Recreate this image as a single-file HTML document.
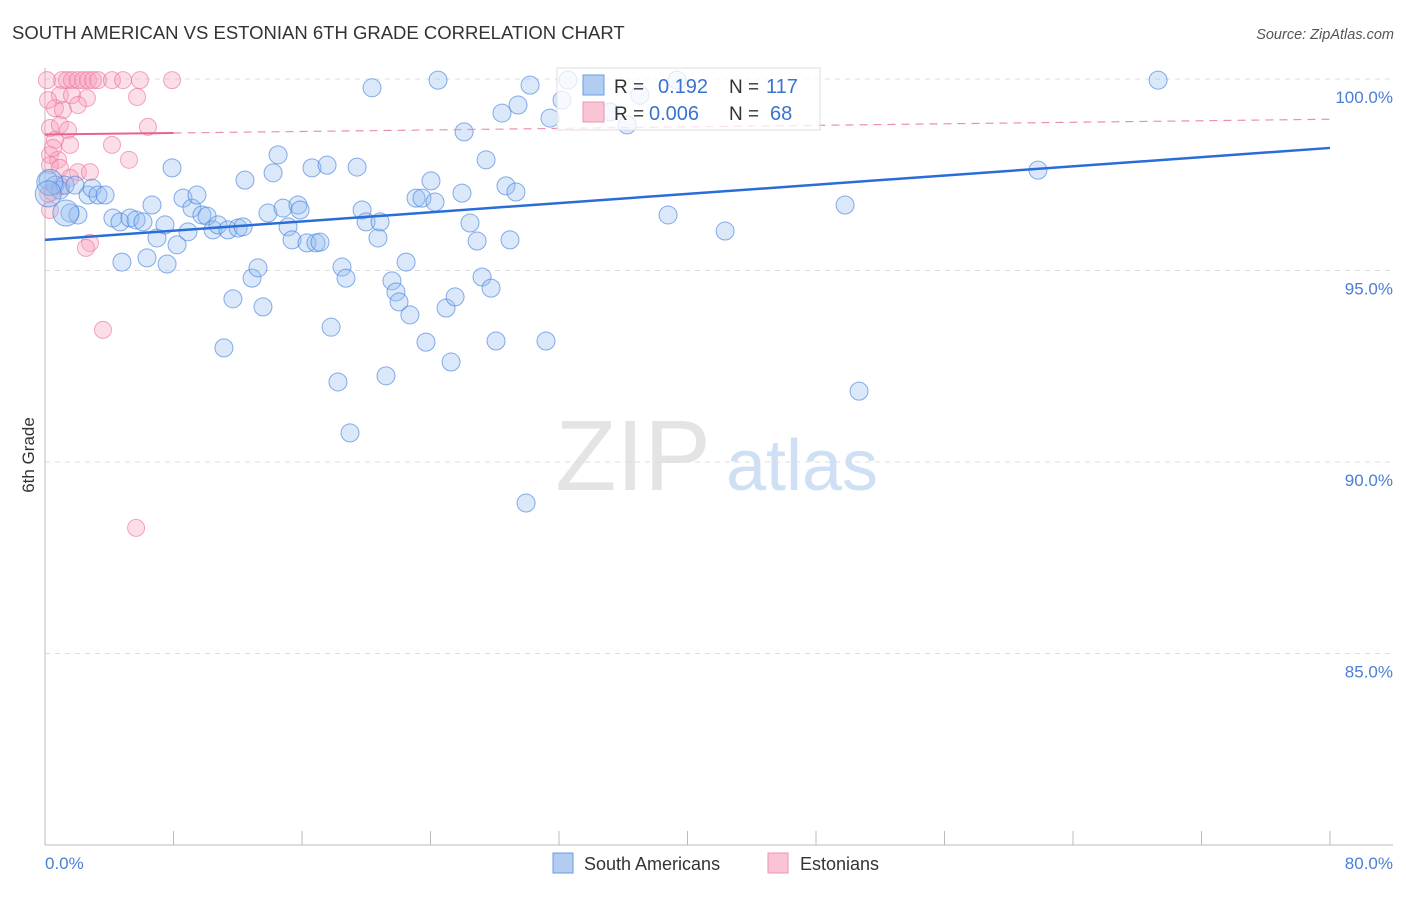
<!DOCTYPE html>
<html><head><meta charset="utf-8"><style>
body{margin:0;background:#fff;font-family:"Liberation Sans",sans-serif;}
svg text{font-family:"Liberation Sans",sans-serif;}
</style></head><body>
<svg id="chart" width="1406" height="892" xmlns="http://www.w3.org/2000/svg">
<text x="12" y="39" font-size="18.5" fill="#333">SOUTH AMERICAN VS ESTONIAN 6TH GRADE CORRELATION CHART</text>
<text x="1394" y="39" font-size="14.5" fill="#555" font-style="italic" text-anchor="end">Source: ZipAtlas.com</text>
<g>
<text x="633" y="490" font-size="100" font-family="Liberation Serif" fill="#e4e4e4" text-anchor="middle">ZIP</text>
<text x="802" y="490" font-size="72" fill="#cfe0f5" text-anchor="middle">atlas</text>
</g>
<g id="grid"></g>
<g id="axes"></g>
<g id="points"></g>
<g id="lines"></g>
<text transform="translate(34,455) rotate(-90)" font-size="17" fill="#333" text-anchor="middle">6th Grade</text>
<text x="45" y="869" font-size="17" fill="#4a7fd6">0.0%</text>
<text x="1393" y="869" font-size="17" fill="#4a7fd6" text-anchor="end">80.0%</text>
<g>
<rect x="557" y="68" width="263" height="62" fill="rgba(255,255,255,0.75)" stroke="#ddd"/>
<rect x="583" y="75" width="21" height="20" fill="#b3cdf2" stroke="#6b9be0"/>
<rect x="583" y="102" width="21" height="20" fill="#f9c4d4" stroke="#ef93b2"/>
<text x="614" y="93" font-size="19" fill="#333">R = </text><text x="658" y="93" font-size="20" fill="#3a73d0">0.192</text>
<text x="729" y="93" font-size="19" fill="#333">N = </text><text x="766" y="93" font-size="20" fill="#3a73d0">117</text>
<text x="614" y="120" font-size="19" fill="#333">R = </text><text x="649" y="120" font-size="20" fill="#3a73d0">0.006</text>
<text x="729" y="120" font-size="19" fill="#333">N = </text><text x="770" y="120" font-size="20" fill="#3a73d0">68</text>
</g>
<g>
<rect x="553" y="853" width="20" height="20" fill="#b3cdf2" stroke="#6b9be0"/>
<text x="584" y="870" font-size="18" fill="#333">South Americans</text>
<rect x="768" y="853" width="20" height="20" fill="#f9c4d4" stroke="#ef93b2"/>
<text x="800" y="870" font-size="18" fill="#333">Estonians</text>
</g>
</svg>
<script>
const yTicks=[100,95,90,85];
const yTickLabels=["100.0%","95.0%","90.0%","85.0%"];
const xTicks=[0,8,16,24,32,40,48,56,64,72,80];
const blueX=[0.19,0.62,0.93,1.25,1.56,2.05,1.87,2.68,2.93,3.30,3.74,4.23,4.67,4.79,5.29,5.67,6.10,6.35,6.66,6.97,7.47,7.60,7.91,8.22,8.59,8.90,9.15,9.46,9.77,10.09,10.46,10.77,11.14,11.39,11.70,12.02,12.33,12.45,12.89,13.26,13.57,13.88,14.20,14.51,14.82,15.13,15.38,15.75,15.88,16.31,16.62,16.87,17.12,17.56,17.81,18.24,18.49,18.74,18.99,19.43,19.74,19.99,20.36,20.73,20.86,21.23,21.60,21.85,22.04,22.48,22.72,23.10,23.47,23.72,24.03,24.28,24.47,24.97,25.28,25.53,25.96,26.09,26.46,26.90,27.21,27.46,27.77,28.08,28.45,28.70,28.95,29.32,29.45,29.95,30.20,31.19,31.44,32.19,32.56,35.18,36.24,37.04,38.79,39.35,42.34,49.81,50.68,61.82,69.30];
const blueY=[97.36,97.23,97.10,97.23,96.50,96.45,97.23,96.97,97.15,96.97,96.97,96.37,96.27,95.22,96.37,96.32,96.27,95.33,96.71,95.85,96.19,95.17,97.68,95.67,96.89,96.01,96.63,96.97,96.45,96.42,96.06,96.19,92.98,96.06,94.26,96.11,96.14,97.36,94.80,95.07,94.05,96.50,97.55,98.02,96.63,96.14,95.80,96.71,96.58,95.72,97.68,95.72,95.74,97.75,93.52,92.09,95.09,94.80,90.76,97.70,96.58,96.27,99.77,95.85,96.27,92.25,94.73,94.44,94.18,95.22,93.84,96.89,96.89,93.13,97.34,96.79,99.97,94.02,92.61,94.31,97.02,98.62,96.24,95.77,94.83,97.89,94.54,93.16,99.11,97.21,95.80,97.05,99.32,88.93,99.84,93.16,98.98,99.45,99.97,99.14,98.80,99.58,96.45,99.97,96.03,96.71,91.85,97.62,99.97];
const pinkX=[1.06,1.37,1.68,2.05,2.37,2.68,2.99,3.30,4.17,4.86,5.91,7.91,0.93,1.68,2.61,5.73,0.62,1.12,2.05,0.31,0.93,1.43,0.62,1.56,0.31,0.81,4.17,6.41,5.23,0.31,0.93,2.05,2.80,1.56,0.44,0.31,2.80,2.55,3.61,5.67,0.19,0.12,0.5,0.2,1.0];
const pinkY=[99.97,99.97,99.97,99.97,99.97,99.97,99.97,99.97,99.97,99.97,99.97,99.97,99.58,99.58,99.50,99.53,99.24,99.19,99.32,98.72,98.80,98.67,98.41,98.28,98.02,97.89,98.28,98.75,97.89,97.75,97.68,97.57,97.57,97.42,97.05,96.58,95.72,95.59,93.45,88.28,99.45,99.97,98.2,97.0,97.2];
const blueBig=[[0.3,97.3],[1.3,96.5],[0.2,97.0]];
const blueTrend=[95.8,98.2];
const pinkTrend=[98.55,98.95];
const pinkSolidEnd=8;
const NS="http://www.w3.org/2000/svg";
const sx=v=>45+v/80*1285;
const sy=v=>79+(100-v)*38.3;
function mk(tag,attrs,parent){const e=document.createElementNS(NS,tag);for(const k in attrs)e.setAttribute(k,attrs[k]);parent.appendChild(e);return e;}
const grid=document.getElementById('grid');
yTicks.forEach((t,i)=>{
 const l=mk('line',{x1:45,x2:1393,y1:sy(t),y2:sy(t),stroke:'#ddd','stroke-dasharray':'5,5'},grid);
 
 
 const tx=mk('text',{x:1393,y:sy(t)+24,'font-size':17,fill:'#4a7fd6','text-anchor':'end'},grid);
 tx.textContent=yTickLabels[i];
 
 
});
const axes=document.getElementById('axes');
const ya=mk('line',{x1:45,x2:45,y1:68,y2:845,stroke:'#bbb'},axes);


const xa=mk('line',{x1:45,x2:1393,y1:845,y2:845,stroke:'#bbb'},axes);


xTicks.forEach(t=>{const l=mk('line',{x1:sx(t),x2:sx(t),y1:831,y2:845,stroke:'#bbb'},axes);
 
 });
const pts=document.getElementById('points');
pinkX.forEach((x,i)=>{const c=mk('circle',{cx:sx(x),cy:sy(pinkY[i]),r:8.5,fill:'rgba(245,160,190,0.35)',stroke:'rgba(236,120,160,0.65)','stroke-width':1},pts);
 
 });
blueX.forEach((x,i)=>{const c=mk('circle',{cx:sx(x),cy:sy(blueY[i]),r:9,fill:'rgba(150,190,240,0.35)',stroke:'rgba(70,130,220,0.65)','stroke-width':1},pts);
 
 });
blueBig.forEach(p=>{const c=mk('circle',{cx:sx(p[0]),cy:sy(p[1]),r:13,fill:'rgba(150,190,240,0.4)',stroke:'rgba(70,130,220,0.65)'},pts);
 
 });
const lines=document.getElementById('lines');
const bl=mk('line',{x1:sx(0),y1:sy(blueTrend[0]),x2:sx(80),y2:sy(blueTrend[1]),stroke:'#2a6dd8','stroke-width':2.5},lines);


const pmid=pinkTrend[0]+(pinkTrend[1]-pinkTrend[0])*pinkSolidEnd/80;
const pl=mk('line',{x1:sx(0),y1:sy(pinkTrend[0]),x2:sx(pinkSolidEnd),y2:sy(pmid),stroke:'#e8648f','stroke-width':2},lines);


const pd=mk('line',{x1:sx(pinkSolidEnd),y1:sy(pmid),x2:sx(80),y2:sy(pinkTrend[1]),stroke:'#ec8fae','stroke-width':1.2,'stroke-dasharray':'8,6'},lines);


</script>
</body></html>
